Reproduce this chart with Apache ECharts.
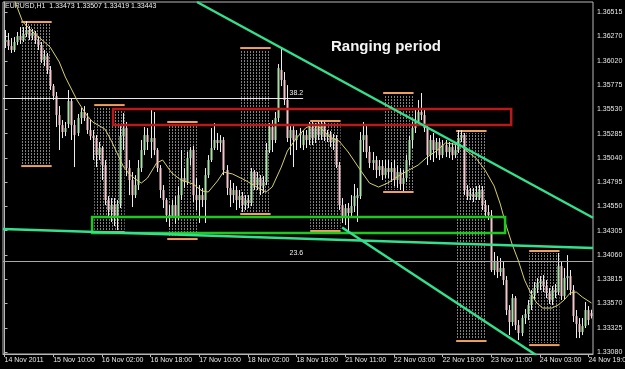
<!DOCTYPE html>
<html><head><meta charset="utf-8">
<script src="https://cdn.jsdelivr.net/npm/echarts@6/dist/echarts.min.js"></script>
<style>html,body{margin:0;padding:0;background:#000;}#c{width:625px;height:369px;}</style>
</head><body><div id="c"></div>
<script>
// ---- DATA (EURUSD H1, bar index 0 = first visible bar) ----
const opens=[1.36211,1.36231,1.36170,1.36130,1.36211,1.36271,1.36231,1.36292,1.36332,1.36271,1.36302,1.36231,1.36180,1.36029,1.36069,1.35928,1.35766,1.35665,1.35473,1.35372,1.35302,1.35383,1.35615,1.35372,1.35292,1.35443,1.35504,1.35443,1.35322,1.35261,1.35241,1.35069,1.35140,1.34968,1.34615,1.34514,1.34564,1.34433,1.34575,1.35261,1.35342,1.34938,1.34817,1.34665,1.34766,1.34938,1.35120,1.35271,1.35201,1.35241,1.35120,1.34938,1.34716,1.34615,1.34463,1.34433,1.34564,1.34433,1.34665,1.34837,1.34797,1.35039,1.35120,1.34665,1.34615,1.34665,1.34615,1.34867,1.35019,1.35140,1.35221,1.35191,1.35221,1.34918,1.34736,1.34665,1.34716,1.34615,1.34655,1.34564,1.34615,1.34585,1.34898,1.34766,1.34837,1.34756,1.34797,1.35120,1.35352,1.35221,1.35443,1.35928,1.35827,1.35625,1.35241,1.35322,1.35221,1.35271,1.35170,1.35271,1.35221,1.35352,1.35241,1.35342,1.35271,1.35383,1.35251,1.35282,1.35201,1.35241,1.34968,1.34564,1.34433,1.34534,1.34484,1.34554,1.34635,1.34655,1.35221,1.35271,1.35100,1.34989,1.35019,1.34918,1.34958,1.34867,1.34938,1.34898,1.34938,1.34817,1.34898,1.34777,1.34837,1.35019,1.35221,1.35342,1.35403,1.35504,1.35473,1.35342,1.35069,1.35221,1.35120,1.35201,1.35069,1.35170,1.35100,1.35150,1.35069,1.35120,1.35241,1.35271,1.34716,1.34655,1.34676,1.34645,1.34635,1.34716,1.34564,1.34494,1.34463,1.33908,1.33989,1.33888,1.33928,1.33807,1.33504,1.33383,1.33625,1.33352,1.33272,1.33423,1.33464,1.33554,1.33655,1.33726,1.33777,1.33797,1.33746,1.33676,1.33605,1.33706,1.33686,1.33948,1.33645,1.33827,1.33847,1.33706,1.33443,1.33363,1.33282,1.33342,1.33504,1.33473];
const closes=[1.36231,1.36170,1.36130,1.36211,1.36271,1.36231,1.36292,1.36332,1.36271,1.36302,1.36231,1.36180,1.36029,1.36069,1.35928,1.35766,1.35665,1.35473,1.35372,1.35302,1.35342,1.35615,1.35372,1.35271,1.35443,1.35504,1.35443,1.35322,1.35261,1.35241,1.35069,1.35140,1.34968,1.34615,1.34514,1.34564,1.34433,1.34575,1.35261,1.35342,1.34938,1.34817,1.34665,1.34766,1.34938,1.35120,1.35271,1.35201,1.35241,1.35120,1.34938,1.34716,1.34615,1.34463,1.34433,1.34564,1.34433,1.34665,1.34837,1.34797,1.35039,1.35120,1.34665,1.34615,1.34665,1.34615,1.34867,1.35019,1.35140,1.35221,1.35191,1.35221,1.34918,1.34736,1.34665,1.34716,1.34615,1.34655,1.34564,1.34615,1.34585,1.34898,1.34766,1.34837,1.34756,1.34797,1.35120,1.35352,1.35221,1.35443,1.35948,1.35827,1.35625,1.35241,1.35322,1.35221,1.35271,1.35292,1.35271,1.35221,1.35352,1.35241,1.35342,1.35271,1.35383,1.35251,1.35282,1.35201,1.35241,1.34968,1.34564,1.34433,1.34534,1.34484,1.34554,1.34655,1.34665,1.35221,1.35271,1.35100,1.34989,1.35019,1.34918,1.34958,1.34867,1.34938,1.34898,1.34938,1.34817,1.34898,1.34777,1.34837,1.35019,1.35221,1.35342,1.35403,1.35504,1.35473,1.35342,1.35069,1.35221,1.35120,1.35201,1.35069,1.35170,1.35100,1.35150,1.35069,1.35120,1.35241,1.35271,1.34716,1.34655,1.34676,1.34645,1.34696,1.34716,1.34564,1.34494,1.34463,1.33908,1.33989,1.33888,1.33928,1.33807,1.33504,1.33383,1.33625,1.33352,1.33272,1.33423,1.33464,1.33554,1.33655,1.33726,1.33777,1.33797,1.33746,1.33676,1.33605,1.33706,1.33686,1.33948,1.33645,1.33827,1.33847,1.33706,1.33443,1.33363,1.33282,1.33342,1.33504,1.33403,1.33443];
const highs=[1.36332,1.36302,1.36251,1.36261,1.36312,1.36362,1.36362,1.36423,1.36372,1.36342,1.36322,1.36271,1.36211,1.36130,1.36100,1.35968,1.35787,1.35706,1.35564,1.35423,1.35403,1.35726,1.35645,1.35423,1.35484,1.35544,1.35564,1.35494,1.35423,1.35322,1.35271,1.35201,1.35160,1.35019,1.34655,1.34635,1.34635,1.34615,1.35372,1.35494,1.35403,1.35019,1.34898,1.34867,1.35019,1.35221,1.35352,1.35342,1.35524,1.35504,1.35140,1.34968,1.34766,1.34635,1.34564,1.34615,1.34655,1.34756,1.35120,1.34938,1.35100,1.35150,1.35160,1.34837,1.34766,1.34736,1.34938,1.35069,1.35342,1.35393,1.35292,1.35271,1.35251,1.34968,1.34817,1.34787,1.34756,1.34716,1.34696,1.34665,1.34665,1.34938,1.34918,1.34898,1.34867,1.34857,1.35191,1.35393,1.35423,1.35504,1.35989,1.36160,1.35908,1.35776,1.35372,1.35362,1.35322,1.35342,1.35322,1.35322,1.35403,1.35403,1.35393,1.35403,1.35413,1.35403,1.35322,1.35312,1.35282,1.35271,1.34999,1.34635,1.34575,1.34585,1.34665,1.34777,1.34736,1.35302,1.35403,1.35372,1.35160,1.35100,1.35059,1.35019,1.35019,1.35019,1.35019,1.34999,1.35019,1.34968,1.34938,1.34918,1.35069,1.35261,1.35403,1.35524,1.35625,1.35696,1.35544,1.35383,1.35271,1.35292,1.35241,1.35241,1.35221,1.35221,1.35201,1.35191,1.35170,1.35322,1.35322,1.35292,1.34766,1.34736,1.34736,1.34756,1.34766,1.34756,1.34615,1.34564,1.34514,1.34090,1.34049,1.34029,1.33989,1.33847,1.33554,1.33666,1.33645,1.33403,1.33453,1.33514,1.33605,1.33706,1.33787,1.33827,1.33847,1.33857,1.33807,1.33726,1.33746,1.33767,1.34080,1.33989,1.33928,1.34059,1.33908,1.33756,1.33504,1.33423,1.33423,1.33585,1.33544,1.33507];
const lows=[1.36150,1.36130,1.36100,1.36110,1.36180,1.36191,1.36211,1.36261,1.36231,1.36231,1.36191,1.36130,1.35999,1.35968,1.35888,1.35726,1.35625,1.35352,1.35120,1.35241,1.35261,1.35342,1.35221,1.34948,1.35261,1.35383,1.35413,1.35282,1.35221,1.35019,1.34948,1.35019,1.34817,1.34564,1.34443,1.34393,1.34352,1.34312,1.34534,1.35120,1.34857,1.34665,1.34544,1.34635,1.34716,1.34898,1.35069,1.35120,1.35039,1.35069,1.34898,1.34635,1.34534,1.34393,1.34342,1.34463,1.34373,1.34413,1.34615,1.34736,1.34766,1.34968,1.34595,1.34514,1.34383,1.34544,1.34383,1.34837,1.34999,1.35120,1.35120,1.35100,1.34867,1.34665,1.34544,1.34585,1.34514,1.34534,1.34494,1.34514,1.34534,1.34554,1.34716,1.34716,1.34665,1.34686,1.34766,1.35090,1.35100,1.35191,1.35403,1.35766,1.35574,1.35201,1.35069,1.34948,1.35120,1.35140,1.35120,1.35140,1.35170,1.35170,1.35191,1.35221,1.35221,1.35211,1.35201,1.35150,1.35120,1.34938,1.34514,1.34383,1.34362,1.34292,1.34453,1.34494,1.34393,1.34625,1.35100,1.35039,1.34938,1.34918,1.34837,1.34857,1.34817,1.34837,1.34837,1.34797,1.34756,1.34736,1.34716,1.34706,1.34797,1.34968,1.35140,1.35292,1.35362,1.35423,1.35302,1.34968,1.35019,1.34999,1.35039,1.35019,1.35039,1.35049,1.35039,1.35019,1.35039,1.35090,1.35201,1.34665,1.34615,1.34615,1.34595,1.34615,1.34615,1.34514,1.34433,1.34413,1.33888,1.33857,1.33827,1.33847,1.33756,1.33453,1.33251,1.33342,1.33302,1.33201,1.33241,1.33363,1.33403,1.33504,1.33605,1.33676,1.33706,1.33686,1.33625,1.33565,1.33554,1.33625,1.33655,1.33605,1.33605,1.33706,1.33655,1.33383,1.33221,1.33221,1.33251,1.33322,1.33352,1.33419];
const xTickBars=[0,16,32,48,64,80,96,112,128,144,160,176,192];
const xTickLabels=['14 Nov 2011','15 Nov 10:00','16 Nov 02:00','16 Nov 18:00','17 Nov 10:00','18 Nov 02:00','18 Nov 18:00','21 Nov 11:00','22 Nov 03:00','22 Nov 19:00','23 Nov 11:00','24 Nov 03:00','24 Nov 19:00'];
const yTickValues=[1.33080,1.33325,1.33570,1.33815,1.34060,1.34305,1.34550,1.34795,1.35040,1.35285,1.35530,1.35775,1.36020,1.36270,1.36515];
const maBars=[3,6,9,12,15,18,20,22,24,27,29,33,35,37,39,41,43,45,47,50,52,55,58,62,65,67,70,72,75,79,83,86,88,91,93,96,99,101,104,107,110,113,117,120,123,126,130,133,136,139,142,145,150,152,155,158,161,163,165,167,169,171,173,175,177,180,182,184,186,188,190,193];
const maValues=[1.36655,1.36413,1.36322,1.36241,1.36160,1.36009,1.35857,1.35736,1.35615,1.35473,1.35403,1.35332,1.35221,1.35090,1.34958,1.34878,1.34827,1.34787,1.34837,1.34989,1.35019,1.34888,1.34817,1.34777,1.34706,1.34696,1.34807,1.34898,1.34878,1.34817,1.34746,1.34696,1.34746,1.34948,1.35110,1.35241,1.35342,1.35372,1.35342,1.35251,1.35211,1.35100,1.34918,1.34787,1.34746,1.34787,1.34867,1.34918,1.34968,1.35049,1.35110,1.35191,1.35170,1.35110,1.35039,1.34918,1.34756,1.34575,1.34352,1.34160,1.33999,1.33807,1.33676,1.33575,1.33524,1.33524,1.33554,1.33605,1.33676,1.33686,1.33635,1.33575];
const sessionStart=[6,30,54,78,101,125,149,173];
const sessionEnd=[15,39,63,87,110,134,158,182];
const sessionHigh=[1.36413,1.35574,1.35403,1.36150,1.35413,1.35696,1.35312,1.34100];
const sessionLow=[1.34958,1.34292,1.34221,1.34474,1.34302,1.34696,1.33191,1.33150];
const trendUpper=[[63.3,1.36615],[193.5,1.34436]];
const trendMiddle=[[-0.5,1.34322],[193.5,1.34130]];
const trendLower=[[111,1.34337],[175,1.33045]];
const redZone=[35.7,166.6,1.35534,1.35372];
const greenZone=[28.8,164.6,1.34443,1.34282];
const fib382=1.35645, fib382End=98.2, fib236=1.34029, bidPrice=1.33443;
const titleText='EURUSD,H1  1.33473 1.33507 1.33419 1.33443';
const noteText='Ranging period';

// ---- CHART ----
const pat=document.createElement('canvas'); pat.width=3; pat.height=3;
const pg=pat.getContext('2d'); pg.fillStyle='#808080'; pg.fillRect(1,0,1,2);

const candles=opens.map((o,i)=>[i,o,closes[i],lows[i],highs[i]]);
const sessions=sessionStart.map((s,k)=>[s,sessionEnd[k],sessionHigh[k],sessionLow[k]]);
const maData=maBars.map((b,k)=>[b,maValues[k]]);

function renderCandle(params,api){
  const i=api.value(0),o=api.value(1),c=api.value(2),l=api.value(3),h=api.value(4);
  const pO=api.coord([i,o]),pC=api.coord([i,c]),pL=api.coord([i,l]),pH=api.coord([i,h]);
  const cx=Math.round(pO[0]);
  const top=Math.min(pO[1],pC[1]),bot=Math.max(pO[1],pC[1]);
  const up=c>=o;
  return {type:'group',children:[
    {type:'line',shape:{x1:cx+0.5,y1:pH[1],x2:cx+0.5,y2:pL[1]},style:{stroke:'#ececec',lineWidth:1}},
    {type:'rect',shape:{x:cx-0.5,y:top,width:2,height:Math.max(1,bot-top)},style:{fill:up?'#a8e0a8':'#f2c6cc'}}
  ]};
}
function renderSession(params,api){
  const half=api.size([1,0])[0]/2;
  const a=api.coord([api.value(0),api.value(2)]),b=api.coord([api.value(1),api.value(3)]);
  const x0=a[0]-half,x1=b[0]+half;
  return {type:'group',children:[
    {type:'rect',shape:{x:x0,y:a[1]+2,width:x1-x0,height:b[1]-a[1]-4},style:{fill:{image:pat,repeat:'repeat'}}},
    {type:'line',shape:{x1:x0,y1:a[1],x2:x1,y2:a[1]},style:{stroke:'#eea060',lineWidth:2}},
    {type:'line',shape:{x1:x0,y1:b[1],x2:x1,y2:b[1]},style:{stroke:'#eea060',lineWidth:2}}
  ]};
}
function zoneRenderer(color){
  return function(params,api){
    const a=api.coord([api.value(0),api.value(2)]),b=api.coord([api.value(1),api.value(3)]);
    return {type:'rect',shape:{x:a[0],y:a[1],width:b[0]-a[0],height:b[1]-a[1]},style:{fill:'none',stroke:color,lineWidth:2.5}};
  };
}
const trendStyle={color:'#34e08e',width:2.5};
const chart=echarts.init(document.getElementById('c'),null,{renderer:'canvas'});
chart.setOption({
  animation:false,
  backgroundColor:'#000',
  grid:{left:3,right:32,top:2,bottom:15,outerBoundsMode:'none',containLabel:false,show:true,borderColor:'#b8b8b8',borderWidth:1,backgroundColor:'#000'},
  xAxis:{type:'value',min:-0.5,max:193.5,position:'bottom',
    axisLine:{show:true,lineStyle:{color:'#b8b8b8'}},
    axisTick:{show:true,length:3,customValues:xTickBars,lineStyle:{color:'#b8b8b8'}},
    axisLabel:{customValues:xTickBars,formatter:v=>xTickLabels[xTickBars.indexOf(Math.round(v))]||'',color:'#e8e8e8',fontSize:7,fontFamily:'Liberation Sans',align:'left',margin:3,hideOverlap:false},
    splitLine:{show:false}},
  yAxis:{type:'value',position:'right',min:1.33060,max:1.36615,scale:true,
    axisLine:{show:true,lineStyle:{color:'#b8b8b8'}},
    axisTick:{show:true,length:3,customValues:yTickValues,lineStyle:{color:'#b8b8b8'}},
    axisLabel:{customValues:yTickValues,formatter:v=>v.toFixed(5),color:'#e8e8e8',fontSize:7,fontFamily:'Liberation Sans',margin:4},
    splitLine:{show:false}},
  graphic:[
    {type:'text',left:5,top:3,style:{text:titleText,fill:'#f0f0f0',font:'7px "Liberation Sans"'}},
    {type:'text',left:331,top:39,style:{text:noteText,fill:'#f4f4f4',font:'bold 15px "Liberation Sans"'}}
  ],
  series:[
    {type:'custom',name:'sessions',data:sessions,renderItem:renderSession,z:1,silent:true},
    {type:'custom',name:'candles',data:candles,renderItem:renderCandle,z:2,silent:true,
      markLine:{silent:true,symbol:'none',z:3,data:[
        [{coord:[-0.5,fib382],lineStyle:{color:'#e8e8e8',width:1,type:'solid'},label:{show:true,position:'insideEndTop',formatter:'38.2',color:'#f0f0f0',fontSize:7,fontFamily:'Liberation Sans',distance:[0,1]}},{coord:[fib382End,fib382]}],
        {yAxis:fib236,lineStyle:{color:'#a8a8a8',width:1,type:'solid'},label:{show:false}},
        {yAxis:bidPrice,lineStyle:{color:'#8a8a8a',width:1,type:'solid'},label:{show:true,position:'end',formatter:'1.33443',color:'#000',backgroundColor:'#fff',fontSize:7,fontFamily:'Liberation Sans',padding:[1,2],distance:1}}
      ]}},
    {type:'line',name:'ma',data:maData,symbol:'none',lineStyle:{color:'#d6cf6c',width:1},z:4,silent:true},
    {type:'custom',name:'redZone',data:[redZone],renderItem:zoneRenderer('#b81a1a'),z:5,silent:true},
    {type:'custom',name:'greenZone',data:[greenZone],renderItem:zoneRenderer('#1ec81e'),z:5,silent:true},
    {type:'line',name:'trendUpper',data:trendUpper,symbol:'none',lineStyle:trendStyle,z:6,silent:true},
    {type:'line',name:'trendMiddle',data:trendMiddle,symbol:'none',lineStyle:trendStyle,z:6,silent:true},
    {type:'line',name:'trendLower',data:trendLower,symbol:'none',lineStyle:trendStyle,z:6,silent:true},
    {type:'custom',name:'fibLabel',data:[[fib382End,fib236]],z:7,silent:true,
      renderItem:(p,api)=>{const q=api.coord([api.value(0),api.value(1)]);return {type:'text',x:q[0],y:q[1]-1,style:{text:'23.6',fill:'#f0f0f0',font:'7px "Liberation Sans"',align:'right',verticalAlign:'bottom'}};}}
  ]
});
</script></body></html>
